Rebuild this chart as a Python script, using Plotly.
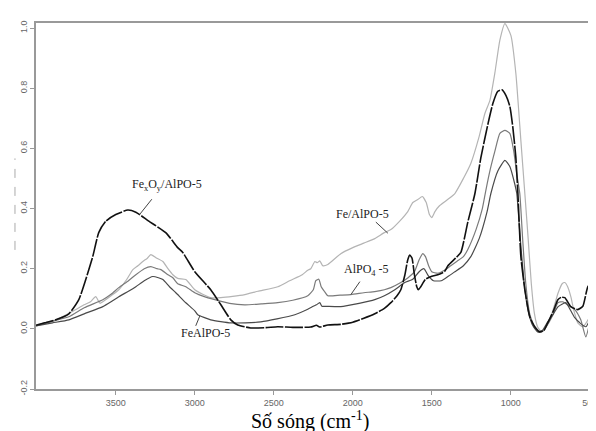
import plotly.graph_objects as go

# ---------------- data ----------------
fexoy_x = [4005, 3950, 3880, 3797, 3734, 3690, 3646, 3608, 3563, 3500, 3424, 3373, 3291, 3184, 3108,
           3076, 3000, 2899, 2835, 2772, 2728, 2646, 2550, 2475, 2380, 2266, 2230, 2210, 2158, 2076,
           2000, 1930, 1861, 1800, 1759, 1720, 1696, 1670, 1652, 1639, 1625, 1610, 1595, 1585, 1570,
           1540, 1500, 1462, 1420, 1398, 1350, 1316, 1272, 1227, 1189, 1145, 1113, 1082, 1056, 1031,
           1006, 987, 968, 955, 936, 911, 880, 848, 816, 790, 766, 730, 702, 680, 658, 620, 576, 544,
           512, 468, 436, 411]
fexoy_y = [0.012, 0.02, 0.03, 0.05, 0.097, 0.164, 0.24, 0.32, 0.358, 0.38, 0.395, 0.388, 0.358, 0.32, 0.27,
           0.254, 0.19, 0.13, 0.08, 0.03, 0.013, 0.003, 0.004, 0.007, 0.005, 0.006, 0.012, 0.006, 0.013, 0.015,
           0.022, 0.035, 0.05, 0.068, 0.087, 0.11, 0.13, 0.18, 0.23, 0.245, 0.235, 0.18, 0.14, 0.13, 0.14,
           0.165, 0.175, 0.18, 0.19, 0.21, 0.235, 0.254, 0.355, 0.45, 0.57, 0.68, 0.75, 0.79, 0.795, 0.776,
           0.74, 0.67, 0.57, 0.45, 0.24, 0.13, 0.04, 0.007, -0.01, -0.005, 0.02, 0.06, 0.097, 0.105, 0.104,
           0.074, 0.064, 0.075, 0.14, 0.164, 0.21, 0.187]

fealpo_imp_x = [4005, 3950, 3880, 3820, 3753, 3700, 3660, 3627, 3600, 3582, 3530, 3481, 3430, 3392, 3360,
                3329, 3300, 3278, 3240, 3202, 3170, 3139, 3108, 3057, 3000, 2950, 2899, 2835, 2760, 2683,
                2600, 2475, 2400, 2320, 2285, 2266, 2240, 2225, 2209, 2190, 2158, 2076, 2000, 1930, 1861,
                1800, 1759, 1700, 1652, 1620, 1588, 1560, 1535, 1515, 1500, 1480, 1450, 1400, 1354, 1300,
                1253, 1200, 1164, 1132, 1101, 1069, 1037, 999, 968, 936, 911, 890, 870, 850, 829, 805, 775,
                740, 700, 675, 658, 640, 620, 600, 576, 544, 500, 449, 411]
fealpo_imp_y = [0.013, 0.02, 0.03, 0.045, 0.064, 0.08, 0.09, 0.107, 0.085, 0.09, 0.11, 0.13, 0.165, 0.197, 0.21,
                0.224, 0.235, 0.247, 0.235, 0.224, 0.2, 0.18, 0.168, 0.164, 0.13, 0.115, 0.104, 0.104, 0.108, 0.114,
                0.125, 0.14, 0.16, 0.18, 0.195, 0.2, 0.224, 0.22, 0.226, 0.21, 0.214, 0.25, 0.27, 0.285, 0.30,
                0.32, 0.33, 0.36, 0.39, 0.42, 0.43, 0.44, 0.42, 0.38, 0.37, 0.39, 0.41, 0.43, 0.45, 0.5,
                0.55, 0.64, 0.716, 0.76, 0.85, 0.96, 1.015, 0.975, 0.85, 0.625, 0.45, 0.3, 0.15, 0.05, 0.005, -0.01, 0.01,
                0.05, 0.12, 0.15, 0.154, 0.14, 0.107, 0.06, 0.02, 0.007, 0.04, 0.097, 0.107]

alpo_x = [4005, 3900, 3797, 3700, 3582, 3530, 3481, 3420, 3373, 3320, 3278, 3240, 3215, 3170, 3139, 3108,
          3057, 3000, 2940, 2873, 2780, 2683, 2580, 2475, 2380, 2285, 2250, 2234, 2215, 2200, 2180, 2158,
          2080, 2012, 1930, 1861, 1800, 1759, 1696, 1650, 1610, 1580, 1557, 1540, 1520, 1500, 1462, 1420,
          1380, 1340, 1300, 1272, 1220, 1180, 1158, 1130, 1101, 1069, 1037, 1006, 981, 962, 943, 925, 905,
          880, 850, 820, 790, 760, 730, 702, 670, 640, 595, 557, 525, 494, 449, 411]
alpo_y = [0.01, 0.025, 0.04, 0.07, 0.097, 0.115, 0.137, 0.16, 0.18, 0.2, 0.207, 0.2, 0.197, 0.18, 0.17, 0.15,
          0.14, 0.12, 0.107, 0.097, 0.085, 0.08, 0.083, 0.087, 0.095, 0.11, 0.13, 0.16, 0.165, 0.14, 0.125, 0.11,
          0.112, 0.114, 0.12, 0.124, 0.13, 0.137, 0.154, 0.17, 0.19, 0.23, 0.25, 0.24, 0.21, 0.19, 0.185, 0.195,
          0.21, 0.225, 0.24, 0.264, 0.33, 0.4, 0.46, 0.53, 0.59, 0.65, 0.66, 0.65, 0.59, 0.515, 0.45, 0.3, 0.15,
          0.05, 0.005, -0.012, -0.005, 0.02, 0.05, 0.087, 0.09, 0.08, 0.064, 0.03, -0.027, 0.03, 0.074, 0.087]

fealpo_x = [4005, 3900, 3797, 3700, 3582, 3530, 3481, 3420, 3373, 3320, 3266, 3230, 3202, 3160, 3120, 3057,
            3000, 2981, 2899, 2772, 2680, 2582, 2480, 2367, 2285, 2250, 2230, 2209, 2195, 2170, 2076, 1960,
            1861, 1800, 1734, 1671, 1620, 1580, 1550, 1520, 1490, 1440, 1398, 1354, 1300, 1253, 1200, 1150,
            1126, 1082, 1037, 1006, 974, 962, 940, 915, 890, 860, 830, 800, 770, 730, 700, 652, 620, 595,
            563, 525, 481, 436, 411]
fealpo_y = [0.01, 0.02, 0.03, 0.05, 0.074, 0.09, 0.107, 0.125, 0.14, 0.16, 0.174, 0.17, 0.164, 0.14, 0.12, 0.087,
            0.06, 0.047, 0.03, 0.02, 0.02, 0.023, 0.033, 0.047, 0.065, 0.075, 0.08, 0.087, 0.075, 0.075, 0.074, 0.085,
            0.097, 0.11, 0.13, 0.154, 0.165, 0.19, 0.2, 0.175, 0.16, 0.16, 0.174, 0.19, 0.21, 0.24, 0.3, 0.39,
            0.45, 0.525, 0.56, 0.54, 0.48, 0.45, 0.3, 0.15, 0.06, 0.01, -0.01, -0.005, 0.02, 0.05, 0.074, 0.087, 0.06, 0.037,
            0.02, 0.007, 0.053, 0.107, 0.12]

x_ticks = [3500, 3000, 2500, 2000, 1500, 1000, 500]
y_ticks = [-0.2, 0.0, 0.2, 0.4, 0.6, 0.8, 1.0]

labels = ["Fe<sub>x</sub>O<sub>y</sub>/AlPO-5", "Fe/AlPO-5", "AlPO<sub>4</sub> -5", "FeAlPO-5"]
label_pos = [(3177, 0.478), (1937, 0.381), (1911, 0.197), (2930, -0.013)]
leader_lines = [((3272, 0.431), (3348, 0.381)), ((1854, 0.355), (1778, 0.318)),
                ((1955, 0.157), (2012, 0.114)), ((2968, 0.043), (2994, 0.01))]

# ---------------- figure ----------------
fig = go.Figure()
series = [
    (fealpo_imp_x, fealpo_imp_y, "#b4b4b4", 1.2, "solid"),
    (alpo_x, alpo_y, "#7a7a7a", 1.2, "solid"),
    (fealpo_x, fealpo_y, "#4a4a4a", 1.2, "solid"),
    (fexoy_x, fexoy_y, "#111111", 1.6, "18px,1.5px"),
]
for xs, ys, col, w, dash in series:
    fig.add_trace(go.Scatter(x=xs, y=ys, mode="lines",
                             line=dict(color=col, width=w, dash=dash, shape="spline", smoothing=0.5),
                             showlegend=False, hoverinfo="skip"))

serif = "Liberation Serif"
for txt, (lx, ly) in zip(labels, label_pos):
    fig.add_annotation(x=lx, y=ly, xref="x", yref="y", text=txt, showarrow=False,
                       font=dict(family=serif, size=12, color="#222"))
for (p0, p1) in leader_lines:
    fig.add_shape(type="line", xref="x", yref="y", x0=p0[0], y0=p0[1], x1=p1[0], y1=p1[1],
                  line=dict(color="#444", width=1))

# faint dashed artefact at far left
fig.add_shape(type="line", xref="paper", yref="paper", x0=-0.037, x1=-0.037, y0=0.38, y1=0.63,
              line=dict(color="#aaa", width=1, dash="dash"))

fig.add_annotation(x=0.482, y=-0.087, xref="paper", yref="paper", yanchor="middle",
                   text="Số sóng (cm<sup>-1</sup>)", showarrow=False,
                   font=dict(family=serif, size=20, color="#000"))

axis_common = dict(showgrid=False, zeroline=False, showline=True, linecolor="#999", linewidth=1.5,
                   ticks="outside", ticklen=4, tickcolor="#999",
                   tickfont=dict(family="Liberation Sans", size=9, color="#666"))
fig.update_xaxes(range=[4005, 410], tickvals=x_ticks, ticktext=[str(v) for v in x_ticks],
                 mirror=True, **axis_common)
fig.update_yaxes(range=[-0.2, 1.017], tickvals=y_ticks, ticktext=[f"{v:.1f}" for v in y_ticks],
                 tickangle=-90, mirror=False, **axis_common)

fig.update_layout(width=596, height=431, margin=dict(l=28, r=0, t=15, b=50),
                  paper_bgcolor="white", plot_bgcolor="white")

fig.write_html("out.html")
